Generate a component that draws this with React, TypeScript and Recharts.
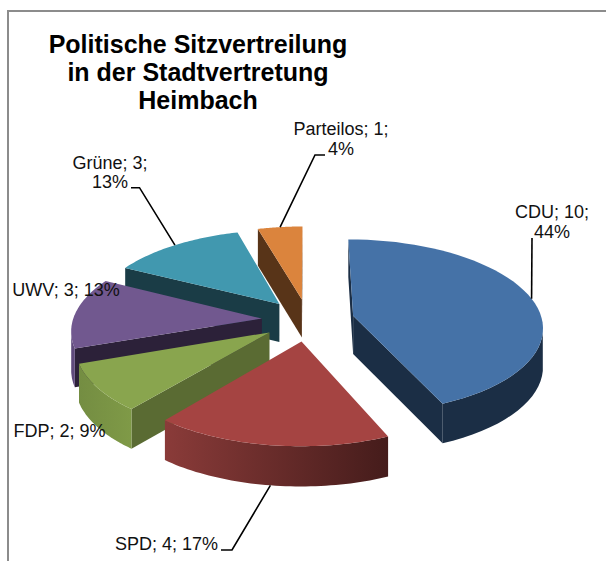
import React from 'react';
import { PieChart, Pie } from 'recharts';

const parties = ['CDU', 'SPD', 'FDP', 'UWV', 'Grüne', 'Parteilos'];
const seats = [10, 4, 2, 3, 3, 1];
const percentLabels = [44, 17, 9, 13, 13, 4];
const titleLines = ['Politische Sitzvertreilung', 'in der Stadtvertretung', 'Heimbach'];

const topColors: Record<string, string> = {
  CDU: '#4572A7', SPD: '#A54442', FDP: '#89A54E', UWV: '#71588F', 'Grüne': '#4198AF', Parteilos: '#DB843D',
};
const wallColors: Record<string, string> = {
  CDU: '#1B2E45', SPD: '#5A2725', FDP: '#5A6B33', UWV: '#2C2139', 'Grüne': '#1A3C46', Parteilos: '#583418',
};
// rim shading goes from the left end to the right end of the arc
const rimColors: Record<string, [string, string]> = {
  CDU: ['#1B2E45', '#1B2E45'],
  SPD: ['#8A3B39', '#451C1B'],
  FDP: ['#748D42', '#7F9A47'],
  UWV: ['#5F4A7C', '#5F4A7C'],
  'Grüne': ['#1A3C46', '#1A3C46'],
  Parteilos: ['#583418', '#583418'],
};

// where each label sits and how its leader bends
const labelLayout: Record<string, any> = {
  CDU: { x: 552, y: 218, wrap: true, path: [[532, 238]] },
  SPD: { x: 166.5, y: 550, wrap: false, path: [[232, 550], [221, 550]] },
  FDP: { x: 59.5, y: 437, wrap: false },
  UWV: { x: 66, y: 296, wrap: false },
  'Grüne': { x: 110, y: 169, wrap: true, lineStep: 19, path: [[139.5, 187.7], [131, 187.7]] },
  Parteilos: { x: 341, y: 135, wrap: true, path: [[315, 155], [325, 155]] },
};

// reversed and drawn counter-clockwise, so the back slices are painted first
const tableData = parties
  .map((name, i) => ({ name, value: seats[i], pct: percentLabels[i] }))
  .reverse();

const CX = 308;
const CY = 320;
const RADIUS = 189;
const TILT = 86 / 188; // vertical squash of the pie plane
const PERSPECTIVE = 0.12;
const EXPLODE = 0.245;
const DEPTH = 38.3;

const rad = (d: number) => (d * Math.PI) / 180;

// theta is clockwise from 12 o'clock, mid is the slice's explode direction
const project = (theta: number, mid: number, r: number, cx: number, cy: number, R: number) => {
  const u = EXPLODE * Math.sin(rad(mid)) + r * Math.sin(rad(theta));
  const v = EXPLODE * Math.cos(rad(mid)) + r * Math.cos(rad(theta));
  const d = 1 + PERSPECTIVE * v;
  return { x: cx + (R * u) / d, y: cy - (R * TILT * v) / d, depth: DEPTH / Math.pow(d, 0.3) };
};

const pts = (list: { x: number; y: number }[]) =>
  list.map((p) => `${p.x.toFixed(1)},${p.y.toFixed(1)}`).join(' ');
const down = (p: any) => ({ x: p.x, y: p.y + p.depth });
const cross = (a: any, b: any, c: any) => (b.x - a.x) * (c.y - a.y) - (b.y - a.y) * (c.x - a.x);

const Slice3D = (props: any) => {
  const { cx, cy, outerRadius, startAngle, endAngle, name } = props;
  const t1 = 90 - endAngle;
  const t2 = 90 - startAngle;
  const mid = (t1 + t2) / 2;
  const steps = 48;
  const arc = Array.from({ length: steps + 1 }, (_, i) =>
    project(t1 + ((t2 - t1) * i) / steps, mid, 1, cx, cy, outerRadius),
  );
  const apex = project(0, mid, 0, cx, cy, outerRadius);
  const inner = project(mid, mid, 0.8, cx, cy, outerRadius);

  // a face is seen when moving straight down leaves the top surface
  const faceSeen = (a: any, b: any) => {
    const s1 = cross(a, b, { x: a.x, y: a.y + 1 });
    const s2 = cross(a, b, inner);
    return s1 * s2 < 0;
  };
  const walls = [arc[0], arc[steps]]
    .filter((p) => faceSeen(apex, p))
    .map((p) => [apex, p, down(p), down(apex)]);
  const rimTop = arc.filter((p, i) => {
    const a = arc[Math.max(i - 1, 0)];
    const b = arc[Math.min(i + 1, steps)];
    return faceSeen(a, b);
  });
  const rim = [...rimTop, ...rimTop.map(down).reverse()];
  const gradId = `rim-${name.replace(/[^A-Za-z]/g, '')}`;
  const xs = arc.map((p) => p.x);

  return (
    <g>
      <defs>
        <linearGradient id={gradId} gradientUnits="userSpaceOnUse"
          x1={Math.min(...xs)} y1={0} x2={Math.max(...xs)} y2={0}>
          <stop offset="0%" stopColor={rimColors[name][0]} />
          <stop offset="100%" stopColor={rimColors[name][1]} />
        </linearGradient>
      </defs>
      {walls.map((w, i) => (
        <polygon key={i} points={pts(w)} fill={wallColors[name]} />
      ))}
      {rimTop.length > 1 && <polygon points={pts(rim)} fill={`url(#${gradId})`} />}
      <polygon points={pts([apex, ...arc])} fill={topColors[name]} />
    </g>
  );
};

const renderLabel = (props: any) => {
  const { cx, cy, outerRadius, midAngle, name, value, payload } = props;
  const layout = labelLayout[name];
  const pct = payload?.pct ?? 0;
  const theta = 90 - midAngle;
  const lines = layout.wrap ? [`${name}; ${value};`, `${pct}%`] : [`${name}; ${value}; ${pct}%`];
  let from = project(theta, theta, 1, cx, cy, outerRadius);
  // the front slice's leader starts at the bottom of its rim
  if (Math.cos(rad(theta)) < -0.5) from = { ...from, y: from.y + from.depth };
  return (
    <g>
      {layout.path && (
        <polyline
          points={[[from.x, from.y], ...layout.path].map((p: number[]) => p.join(',')).join(' ')}
          fill="none" stroke="#000" strokeWidth={1.6}
        />
      )}
      {lines.map((line: string, i: number) => (
        <text key={i} x={layout.x} y={layout.y + i * (layout.lineStep ?? 20)} textAnchor="middle"
          fontFamily="'Liberation Sans', Arial, sans-serif" fontSize={18} fill="#111">
          {line}
        </text>
      ))}
    </g>
  );
};

export default function App() {
  return (
    <div style={{ position: 'absolute', left: 0, top: 0, width: 606, height: 561, background: '#fff', overflow: 'hidden' }}>
      <div style={{ position: 'absolute', left: 7, top: 10, width: 599, height: 2, background: '#8c8c8c' }} />
      <div style={{ position: 'absolute', left: 7, top: 10, width: 2, height: 551, background: '#8c8c8c' }} />
      <div style={{
        position: 'absolute', left: 0, width: 396, top: 30, textAlign: 'center',
        fontFamily: "'Liberation Sans', Arial, sans-serif", fontWeight: 'bold', fontSize: 25, lineHeight: '28px', color: '#000',
      }}>
        {titleLines.map((l) => <div key={l}>{l}</div>)}
      </div>
      <div style={{ position: 'absolute', left: 0, top: 0 }}>
        <PieChart width={606} height={561} margin={{ top: 0, right: 0, bottom: 0, left: 0 }}>
          <Pie
            data={tableData}
            dataKey="value"
            nameKey="name"
            cx={CX}
            cy={CY}
            innerRadius={0}
            outerRadius={RADIUS}
            startAngle={90}
            endAngle={450}
            stroke="none"
            shape={Slice3D}
            label={renderLabel}
            labelLine={false}
            isAnimationActive={false}
          />
        </PieChart>
      </div>
    </div>
  );
}
